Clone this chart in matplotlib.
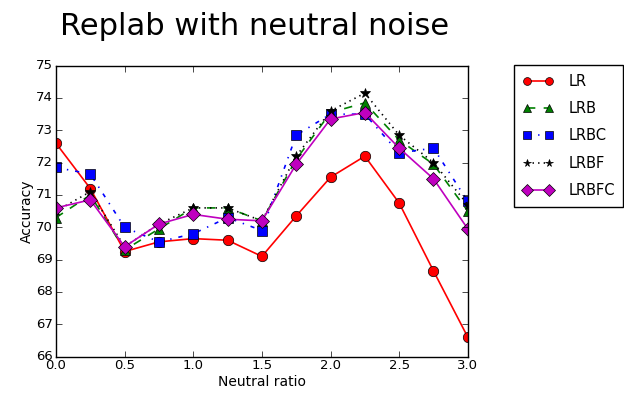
import numpy as np
import matplotlib as mpl
mpl.use('Agg')
import matplotlib.pyplot as plt

plt.style.use('classic')

ratio = [0.0, 0.25, 0.5, 0.75, 1.0, 1.25, 1.5, 1.75, 2.0, 2.25, 2.5, 2.75, 3.0]
lr = [72.6, 71.2, 69.25, 69.55, 69.65, 69.6, 69.1, 70.35, 71.55, 72.2, 70.75, 68.65, 66.6]
lrb = [70.3, 71.0, 69.3, 69.95, 70.6, 70.6, 70.2, 72.1, 73.55, 73.85, 72.7, 71.95, 70.5]
lrbc = [71.85, 71.65, 70.0, 69.55, 69.8, 70.3, 69.9, 72.85, 73.5, 73.5, 72.3, 72.45, 70.8]
lrbf = [70.5, 71.1, 69.4, 70.1, 70.6, 70.6, 70.2, 72.2, 73.6, 74.15, 72.85, 72.0, 70.7]
lrbfc = [70.6, 70.85, 69.4, 70.1, 70.4, 70.25, 70.2, 71.95, 73.35, 73.55, 72.45, 71.5, 69.95]

fig = plt.figure(figsize=(6.24, 3.98), dpi=100, facecolor='white')
ax = fig.add_axes([0.0897, 0.104, 0.660, 0.731])

ms = 7.5
ax.plot(ratio, lr, 'r-o', lw=1.2, ms=ms, label='LR')
ax.plot(ratio, lrb, 'g--^', lw=1.2, ms=ms, label='LRB')
ax.plot(ratio, lrbc, 'b-.s', lw=1.2, ms=ms, label='LRBC')
ax.plot(ratio, lrbf, 'k:*', lw=1.2, ms=ms, label='LRBF')
ax.plot(ratio, lrbfc, 'm-D', lw=1.2, ms=ms, label='LRBFC')

ax.set_xlim(0, 3)
ax.set_ylim(66, 75)
ax.set_xticks(np.arange(0, 3.01, 0.5))
ax.set_yticks(range(66, 76))
ax.tick_params(labelsize=9.5, pad=2)
ax.set_xlabel('Neutral ratio', size=10, labelpad=2)
ax.set_ylabel('Accuracy', size=10, labelpad=2)

fig.text(0.096, 0.912, 'Replab with neutral noise', size=22, ha='left', va='baseline')

ax.legend(loc='upper left', bbox_to_anchor=(0.824, 0.837), bbox_transform=fig.transFigure,
          borderaxespad=0, numpoints=2, prop={'size': 10.5}, labelspacing=0.85,
          handlelength=2.1, handletextpad=1.0, borderpad=0.6, markerscale=0.75,
          fancybox=False)

plt.savefig('out.png', dpi=100, facecolor='white')
plt.close()
